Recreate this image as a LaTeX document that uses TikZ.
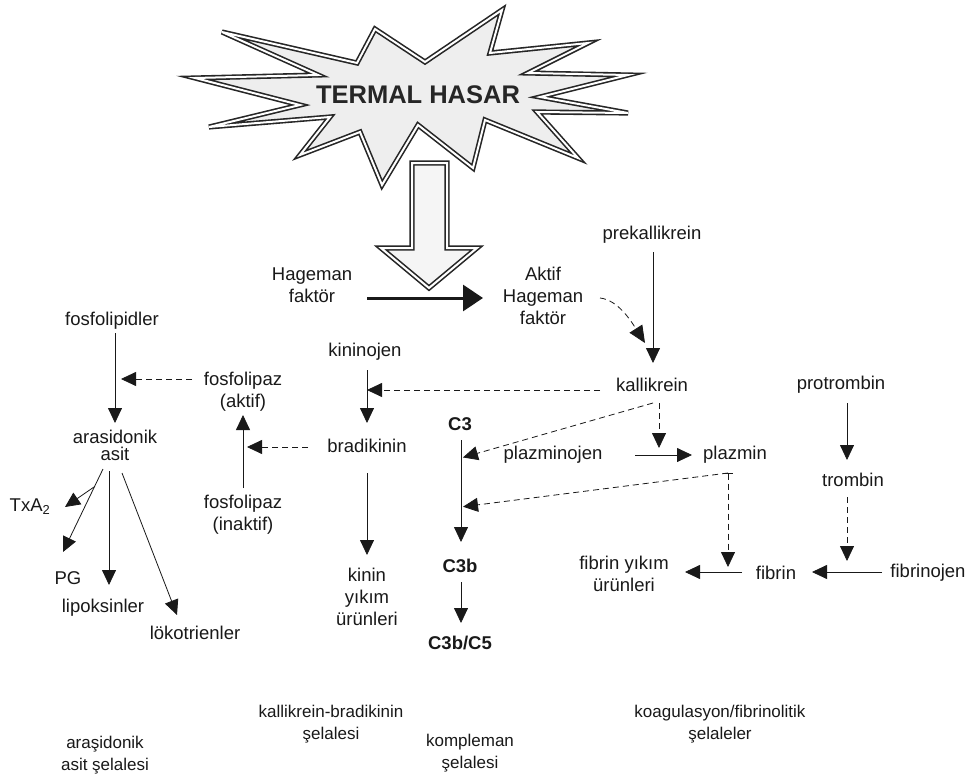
\documentclass[tikz,border=0pt]{standalone}
\usepackage{fontspec}
\setmainfont{Liberation Sans}
\usetikzlibrary{arrows.meta,calc}
\begin{document}
\begin{tikzpicture}[x=1pt,y=-1pt,
  lbl/.style={font=\fontsize{18.5}{22}\selectfont, inner sep=0pt, align=center, text=black!90},
  bl/.style={lbl, font=\fontsize{18.5}{22}\selectfont\bfseries},
  capt/.style={lbl, font=\fontsize{17}{21.5}\selectfont},
  arr/.style={-{Triangle[length=15pt,width=14pt]}, line width=0.8pt, black!90},
  darr/.style={arr, dash pattern=on 6pt off 4pt},
  burst/.style={line width=1.6pt, double=white, double distance=2pt, black!85},
]
\useasboundingbox (0,0) rectangle (972,776);
\fill[white] (0,0) rectangle (972,776);

% starburst
\draw[burst, fill=gray!13]
 (222,32) -- (357,63) -- (375,29) -- (425,62) -- (502,10) -- (490,53) -- (588,43) -- (528,73) -- (628,75) -- (540,97) -- (628,113) -- (537,112) -- (578,158) -- (485,120) -- (473,168) -- (418,125) -- (382,185) -- (360,132) -- (300,155) -- (330,117) -- (209,127) -- (300,105) -- (195,78) -- (318,75) -- cycle;
\node[font=\fontsize{25.5}{28}\selectfont\bfseries, inner sep=0pt, text=black!85] (termal) at (418,95) {TERMAL HASAR};

% hollow arrow
\draw[burst, fill=gray!8] (412,163) -- (447,163) -- (447,248) -- (477,248) -- (429,288) -- (381,248) -- (412,248) -- cycle;

% nodes
\node[lbl] (fosfo) at (112,321) {fosfolipidler};
\node[lbl, font=\fontsize{18.5}{17}\selectfont] (aras) at (115,445) {arasidonik\\asit};
\node[lbl] (faktif) at (243,392) {fosfolipaz\\(aktif)};
\node[lbl] (finaktif) at (243,515) {fosfolipaz\\(inaktif)};
\node[lbl] (txa) at (30,507) {TxA\textsubscript{2}};
\node[lbl] (pg) at (68,578) {PG};
\node[lbl] (lipo) at (103,608) {lipoksinler};
\node[lbl] (loko) at (195,633) {lökotrienler};
\node[lbl] (hag) at (312,285) {Hageman\\faktör};
\node[lbl] (ahag) at (543,296) {Aktif\\Hageman\\faktör};
\node[lbl] (kinino) at (365,352) {kininojen};
\node[lbl] (bradi) at (367,446) {bradikinin};
\node[lbl] (kinin) at (367,597) {kinin\\yıkım\\ürünleri};
\node[lbl] (prek) at (652,235) {prekallikrein};
\node[lbl] (kall) at (652,385) {kallikrein};
\node[bl] (c3) at (460,424) {C3};
\node[bl] (c3b) at (460,566) {C3b};
\node[bl] (c3c5) at (460,643) {C3b/C5};
\node[lbl] (plg) at (553,455) {plazminojen};
\node[lbl] (plm) at (735,455) {plazmin};
\node[lbl] (fyu) at (624,574) {fibrin yıkım\\ürünleri};
\node[lbl] (fibrin) at (776,573) {fibrin};
\node[lbl] (fibjen) at (928,573) {fibrinojen};
\node[lbl] (protr) at (841,385) {protrombin};
\node[lbl] (tromb) at (853,480) {trombin};

% captions
\node[capt] (lab1) at (331,724) {kallikrein-bradikinin\\şelalesi};
\node[capt] (lab2) at (105,755) {araşidonik\\asit şelalesi};
\node[capt] (lab3) at (470,753) {kompleman\\şelalesi};
\node[capt] (lab4) at (720,724) {koagulasyon/fibrinolitik\\şelaleler};

% points on connectors
\coordinate (m1) at (115,379);
\coordinate (m2) at (243,447);
\coordinate (m3) at (367,390);
\coordinate (m4) at (461,458);
\coordinate (m5) at (659,455);
\coordinate (m6) at (728,572);
\coordinate (m7) at (461,507);
\coordinate (m8) at (847,572);
\coordinate (br) at (94,487);
\coordinate (tj) at (728,473);

% arachidonic cascade
\draw[arr] ($(fosfo)+(3,12)$) -- ($(aras)+(0,-22)$);
\draw[darr, shorten >=6pt] ($(faktif)+(-51,-13)$) -- (m1);
\draw[arr] ($(finaktif)+(0,-27)$) -- ($(faktif)+(0,23)$);
\draw[darr, shorten >=4pt] ($(bradi)+(-59,1)$) -- (m2);
\draw[arr] ($(aras)+(-12,24)$) -- ($(pg)+(-5,-26)$);
\draw[arr] (br) -- ($(txa)+(35,0)$);
\draw[arr] ($(aras)+(-6,26)$) -- ($(lipo)+(6,-23)$);
\draw[arr] ($(aras)+(7,28)$) -- ($(loko)+(-18,-18)$);

% Hageman
\draw[line width=3pt, black!90, -{Triangle[length=20pt,width=26pt]}] ($(hag)+(55,13)$) -- ($(ahag)+(-60,2)$);
\draw[darr, -{Triangle[length=17pt,width=15pt]}] ($(ahag)+(57,2)$) .. controls +(18,2) and +(-14,-22) .. ($(kall)+(-7,-42)$);

% kallikrein-bradykinin
\draw[arr] ($(prek)+(1,17)$) -- ($(kall)+(1,-22)$);
\draw[arr] ($(kinino)+(2,18)$) -- ($(bradi)+(0,-23)$);
\draw[darr] ($(kall)+(-52,5)$) -- (m3);
\draw[arr] ($(bradi)+(0,27)$) -- ($(kinin)+(0,-42)$);

% complement
\draw[darr, shorten >=2pt] ($(kall)+(1,18)$) -- (m4);
\draw[arr] ($(c3)+(1,16)$) -- ($(c3b)+(1,-24)$);
\draw[arr] ($(c3b)+(1,16)$) -- ($(c3c5)+(1,-20)$);

% fibrinolytic
\draw[darr, shorten >=7pt] ($(kall)+(7,18)$) -- (m5);
\draw[arr] ($(plg)+(82,0)$) -- ($(plm)+(-43,0)$);
\draw[darr, shorten >=5pt, {Bar[width=9pt]}-{Triangle[length=15pt,width=14pt]}] (tj) -- (m6);
\draw[darr, shorten >=2pt] (tj) -- (m7);
\draw[arr] ($(fibrin)+(-34,-1)$) -- ($(fyu)+(61,-2)$);
\draw[arr] ($(fibjen)+(-46,-1)$) -- ($(fibrin)+(36,-1)$);
\draw[arr] ($(protr)+(6,18)$) -- ($(tromb)+(-6,-20)$);
\draw[darr, shorten >=11pt] ($(tromb)+(-6,17)$) -- (m8);
\end{tikzpicture}
\end{document}
